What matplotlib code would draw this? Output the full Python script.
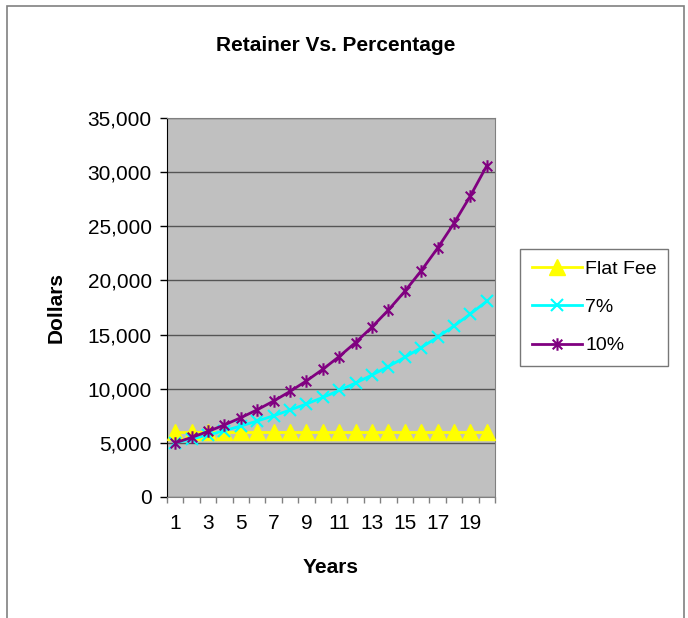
import matplotlib
matplotlib.use("Agg")
import matplotlib.pyplot as plt
from matplotlib.path import Path
from matplotlib.patches import Rectangle
from matplotlib.ticker import FixedLocator, FuncFormatter

plt.rcParams["font.family"] = ["Liberation Sans", "DejaVu Sans"]

years = list(range(1, 21))
flat_fee = [6000] * 20
pct_7 = [5000, 5350, 5725, 6125, 6554, 7013, 7504, 8029, 8591, 9192,
         9836, 10524, 11261, 12049, 12893, 13795, 14761, 15794, 16900, 18083]
pct_10 = [5000, 5500, 6050, 6655, 7321, 8053, 8858, 9744, 10718, 11790,
          12969, 14266, 15692, 17262, 18988, 20886, 22975, 25272, 27800, 30580]
series_labels = ["Flat Fee", "7%", "10%"]
y_ticks = [0, 5000, 10000, 15000, 20000, 25000, 30000, 35000]
x_labels = [1, 3, 5, 7, 9, 11, 13, 15, 17, 19]

# excel-style star marker: an x with a vertical bar through it
star = Path([(-1, -1), (1, 1), (-1, 1), (1, -1), (0, -1.3), (0, 1.3)],
            [Path.MOVETO, Path.LINETO, Path.MOVETO, Path.LINETO, Path.MOVETO, Path.LINETO])

fig = plt.figure(figsize=(6.88, 6.18), dpi=100)
ax = fig.add_axes([0.2427, 0.1958, 0.4767, 0.6133])
ax.set_facecolor("#C0C0C0")

ax.plot(years, flat_fee, color="#FFFF00", lw=2, marker="^", ms=11,
        mec="#FFFF00", mfc="#FFFF00", label=series_labels[0], zorder=3)
ax.plot(years, pct_7, color="#00FFFF", lw=2, marker="x", ms=9, mew=1.5,
        label=series_labels[1], zorder=4)
ax.plot(years, pct_10, color="#800080", lw=2, marker=star, ms=9, mew=1.5,
        label=series_labels[2], zorder=5)

ax.set_xlim(0.5, 20.5)
ax.set_ylim(0, 35000)
ax.yaxis.set_major_locator(FixedLocator(y_ticks))
ax.yaxis.set_major_formatter(FuncFormatter(lambda v, p: f"{int(v):,}"))
ax.grid(axis="y", color="#555555", lw=1)
ax.set_axisbelow(True)

# category axis: ticks at bin edges, labels on every other category
ax.xaxis.set_major_locator(FixedLocator([i + 0.5 for i in range(0, 21)]))
ax.xaxis.set_major_formatter(FuncFormatter(lambda v, p: ""))
ax.xaxis.set_minor_locator(FixedLocator(x_labels))
ax.xaxis.set_minor_formatter(FuncFormatter(lambda v, p: f"{int(v)}"))
ax.tick_params(axis="x", which="major", direction="out", length=4, width=1, color="#808080")
ax.tick_params(axis="x", which="minor", length=0, pad=12, labelsize=15)
ax.tick_params(axis="y", direction="out", length=5, width=1, pad=6, labelsize=15)

for side in ("top", "right"):
    ax.spines[side].set_color("#808080")
ax.spines["left"].set_color("black")
ax.spines["bottom"].set_color("#808080")

fig.text(0.4885, 0.927, "Retainer Vs. Percentage", ha="center", va="center",
         fontsize=15, fontweight="bold")
ax.set_xlabel("Years", fontsize=15, fontweight="bold", labelpad=18)
ax.set_ylabel("Dollars", fontsize=15, fontweight="bold", labelpad=16)

leg = ax.legend(loc="center left", bbox_to_anchor=(1.076, 0.50), fontsize=14,
                frameon=True, fancybox=False, edgecolor="#555555", borderpad=0.6,
                labelspacing=1.05, handlelength=2.6, handletextpad=0.15, borderaxespad=0)
leg.get_frame().set_linewidth(1)

fig.patches.append(Rectangle((7 / 688, -0.05), (684 - 7) / 688, 1.05 - 6 / 618,
                             transform=fig.transFigure, fill=False,
                             edgecolor="#808080", lw=1.2))

fig.savefig("out.png", dpi=100)
